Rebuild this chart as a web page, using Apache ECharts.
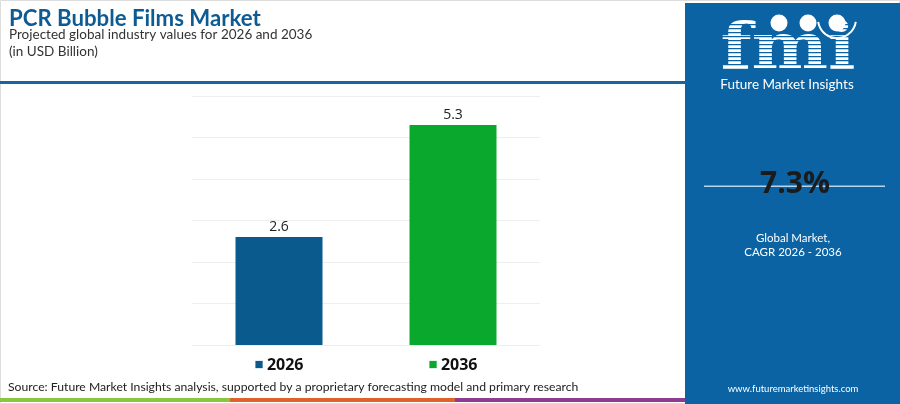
<!DOCTYPE html>
<html>
<head>
<meta charset="utf-8">
<script src="https://cdn.jsdelivr.net/npm/echarts@6/dist/echarts.min.js"></script>
<style>
html,body{margin:0;padding:0;background:#fff;}
#c{width:900px;height:404px;}
</style>
</head>
<body>
<div id="c"></div>
<script>
const categories = ['2026', '2036'];
const values = [2.6, 5.3];
const barColors = ['#0a5a8e', '#0aa92e'];
const titleText = 'PCR Bubble Films Market';
const subtitleText = 'Projected global industry values for 2026 and 2036';
const unitText = '(in USD Billion)';
const sourceText = 'Source: Future Market Insights analysis, supported by a proprietary forecasting model and primary research';
const cagrText = '7.3%';

const chart = echarts.init(document.getElementById('c'), null, {renderer: 'canvas'});
const font = 'Lato, sans-serif';
const panel = '#0b63a4';

const stripes = [];
for (let y = 24; y < 68; y += 4) {
  stripes.push({type: 'rect', shape: {x: 718, y: y, width: 140, height: 1.3}, style: {fill: panel}, z: 12});
}

chart.setOption({
  animation: false,
  grid: {left: 192, right: 360, top: 96, bottom: 59},
  xAxis: {
    type: 'category',
    data: categories,
    axisLine: {show: false},
    axisTick: {show: false},
    axisLabel: {
      margin: 12,
      formatter: function (v, i) { return '{s' + i + '|■} {t|' + v + '}'; },
      rich: {
        s0: {color: barColors[0], fontSize: 15},
        s1: {color: barColors[1], fontSize: 15},
        t: {color: '#111', fontSize: 16, fontWeight: 'bold', fontFamily: 'Open Sans, sans-serif'}
      }
    }
  },
  yAxis: {
    type: 'value',
    min: 0, max: 6, interval: 1,
    axisLabel: {show: false},
    axisLine: {show: false},
    axisTick: {show: false},
    splitLine: {lineStyle: {color: '#eeeeee', width: 1}}
  },
  series: [{
    type: 'bar',
    barWidth: '50%',
    data: values.map((v, i) => ({value: v, itemStyle: {color: barColors[i]}})),
    label: {show: true, position: 'top', distance: 3, color: '#222', fontSize: 14, fontFamily: 'Open Sans, sans-serif'}
  }],
  graphic: [
    {type: 'rect', shape: {x: 0.5, y: 0.5, width: 899, height: 403}, style: {fill: 'none', stroke: '#dddddd', lineWidth: 1}, z: 0},
    {type: 'text', left: 9, top: 8, style: {text: titleText, fill: '#0e5a92', font: 'bold 22.2px ' + font}},
    {type: 'text', left: 9, top: 28, style: {text: subtitleText, fill: '#333', font: '13.5px ' + font}},
    {type: 'text', left: 9, top: 45, style: {text: unitText, fill: '#333', font: '13.5px ' + font}},
    {type: 'rect', shape: {x: 0, y: 81, width: 685, height: 3}, style: {fill: '#1f62a0'}},
    {type: 'text', left: 8, top: 381, style: {text: sourceText, fill: '#222', font: '12.2px ' + font}},
    {type: 'rect', shape: {x: 0, y: 398, width: 230, height: 4}, style: {fill: '#8cc63f'}},
    {type: 'rect', shape: {x: 230, y: 398, width: 225, height: 4}, style: {fill: '#e0622a'}},
    {type: 'rect', shape: {x: 455, y: 398, width: 230, height: 4}, style: {fill: '#8e3c8f'}},
    {type: 'rect', shape: {x: 685, y: 3, width: 215, height: 401}, style: {fill: panel}, z: 10},
    {type: 'text', x: 788, y: 19, scaleX: 1.13, originX: 0, originY: 0, style: {text: 'fmi', fill: '#fff', font: 'bold 64px DejaVu Serif', align: 'center', verticalAlign: 'top'}, z: 11},
    ...stripes,
    {type: 'arc', shape: {cx: 837, cy: 19, r: 19, startAngle: 0.15, endAngle: Math.PI - 0.15}, style: {stroke: '#fff', lineWidth: 2, fill: 'none'}, z: 13},
    {type: 'circle', shape: {cx: 779, cy: 23, r: 8.5}, style: {fill: '#fff'}, z: 13},
    {type: 'circle', shape: {cx: 808, cy: 23, r: 8.5}, style: {fill: '#fff'}, z: 13},
    {type: 'circle', shape: {cx: 837, cy: 23, r: 8.5}, style: {fill: '#fff'}, z: 13},
    {type: 'text', x: 787, y: 78, style: {text: 'Future Market Insights', fill: '#fff', font: '13.5px ' + font, align: 'center', verticalAlign: 'top'}, z: 13},
    {type: 'rect', shape: {x: 704, y: 185.5, width: 181, height: 1.5}, style: {fill: '#b9d3e8'}, z: 11},
    {type: 'text', x: 795, y: 184, style: {text: cagrText, fill: '#1b1b1b', font: 'bold 30px Open Sans, sans-serif', align: 'center', verticalAlign: 'middle'}, z: 12},
    {type: 'text', x: 793, y: 238, style: {text: 'Global Market,', fill: '#fff', font: '11.5px ' + font, align: 'center', verticalAlign: 'middle'}, z: 12},
    {type: 'text', x: 793, y: 252, style: {text: 'CAGR 2026 - 2036', fill: '#fff', font: '11.5px ' + font, align: 'center', verticalAlign: 'middle'}, z: 12},
    {type: 'text', x: 793, y: 389, style: {text: 'www.futuremarketinsights.com', fill: '#fff', font: '9.5px ' + font, align: 'center', verticalAlign: 'middle'}, z: 12}
  ]
});
</script>
</body>
</html>
